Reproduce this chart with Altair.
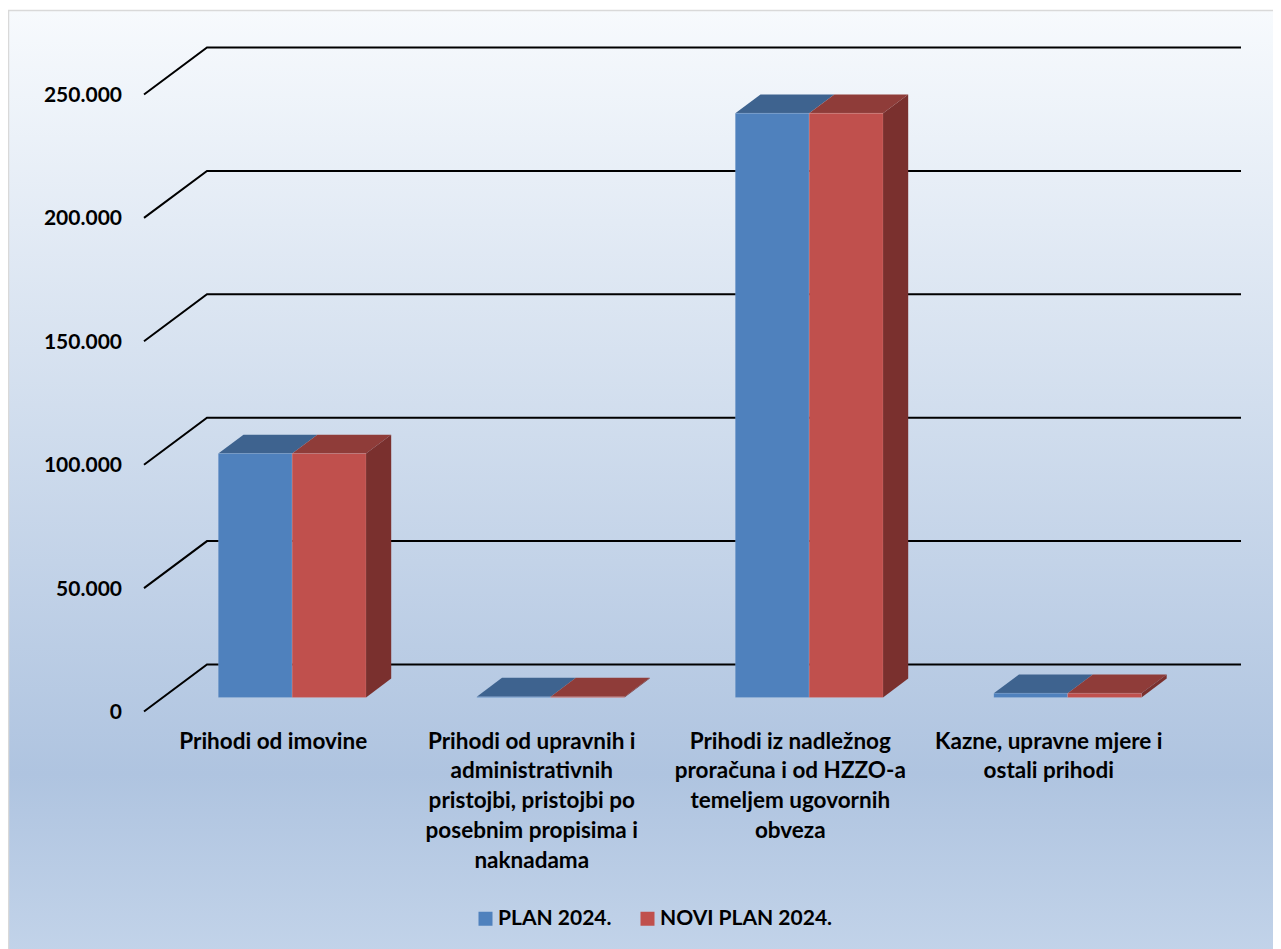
import altair as alt
import pandas as pd

categories = [
    "Prihodi od imovine",
    "Prihodi od upravnih i\nadministrativnih\npristojbi, pristojbi po\nposebnim propisima i\nnaknadama",
    "Prihodi iz nadležnog\nproračuna i od HZZO-a\ntemeljem ugovornih\nobveza",
    "Kazne, upravne mjere i\nostali prihodi",
]
series_names = ["PLAN 2024.", "NOVI PLAN 2024."]
plan_2024 = [98800, 300, 236700, 1700]
novi_plan_2024 = [98800, 300, 236700, 1700]
tick_values = [0, 50000, 100000, 150000, 200000, 250000]
tick_labels = ["0", "50.000", "100.000", "150.000", "200.000", "250.000"]

W, H = 1265, 941
PX_U = 258.5           # pixels per category
PX_V = 2.468 / 1000    # pixels per value unit
X0, Y0 = 144 - 8, 711.5 - 8   # where category 0 / value 0 meet, inside the plot
DEPTH_U = 63 / PX_U    # wall depth in category units
DEPTH_V = 47 / PX_V    # wall depth in value units
BAR_W = 2 / 7
MARGIN = 3 / 14
D_FRONT, D_BACK = 0.3, 0.7
FONT = "Lato"
FS = 21
FS_CAT = 22.5

x_scale = alt.Scale(domain=[-X0 / PX_U, (W - X0) / PX_U], range=[0, W], nice=False, zero=False)
y_scale = alt.Scale(domain=[(Y0 - H) / PX_V, Y0 / PX_V], range=[H, 0], nice=False, zero=False)
X = lambda f: alt.X(f, type="quantitative", scale=x_scale, axis=None, stack=None)
Y = lambda f: alt.Y(f, type="quantitative", scale=y_scale, axis=None, stack=None)

fronts, tops, sides = [], [], []
for s, (name, vals) in enumerate(zip(series_names, [plan_2024, novi_plan_2024])):
    for c, v in enumerate(vals):
        left = c + MARGIN + s * BAR_W + D_FRONT * DEPTH_U
        right = left + BAR_W
        base = D_FRONT * DEPTH_V
        fronts.append(dict(series=name, order=s, l=left, r=right, b=base, t=v + base))
        sid = f"{s}-{c}"
        for d in (0.0, D_BACK - D_FRONT):
            tops.append(dict(id=sid, s=s, y=v + base + d * DEPTH_V,
                             l=left + d * DEPTH_U, r=right + d * DEPTH_U))
            sides.append(dict(id=sid, s=s, x=right + d * DEPTH_U,
                              t=v + base + d * DEPTH_V, b=base + d * DEPTH_V))
fronts, tops, sides = pd.DataFrame(fronts), pd.DataFrame(tops), pd.DataFrame(sides)

grid = pd.DataFrame(
    [dict(tick=t, x=u, y=t + d * DEPTH_V)
     for t in tick_values
     for u, d in ((0, 0), (DEPTH_U, 1), (4 + DEPTH_U, 1))]
)

background = alt.Chart(pd.DataFrame({"a": [0]})).mark_rect(
    fill=alt.Gradient(
        gradient="linear", x1=0, x2=0, y1=0, y2=1,
        stops=[
            alt.GradientStop(color="#f7fafd", offset=0),
            alt.GradientStop(color="#afc4e0", offset=0.81),
            alt.GradientStop(color="#c2d3e9", offset=1),
        ],
    ),
    stroke="#d9d9d9", strokeWidth=1.5,
).encode(x=alt.value(0.5), x2=alt.value(W + 4), y=alt.value(2.5), y2=alt.value(H + 4))

grid_lines = alt.Chart(grid).mark_line(color="#000000", strokeWidth=2, strokeJoin="miter").encode(
    x=X("x"), y=Y("y"), detail="tick:N", order="x:Q"
)

def top_layer(s, color):
    return alt.Chart(tops[tops.s == s]).mark_area(orient="horizontal", color=color).encode(
        y=Y("y"), x=X("l"), x2="r", detail="id:N"
    )

side_layer = alt.Chart(sides[sides.s == 1]).mark_area(orient="vertical", color="#7a302e").encode(
    x=X("x"), y=Y("t"), y2="b", detail="id:N"
)

front_layer = alt.Chart(fronts).mark_rect(stroke="#ffffff", strokeOpacity=0.1, strokeWidth=1).encode(
    x=X("l"), x2="r", y=Y("t"), y2="b",
    color=alt.Color(
        "series:N",
        scale=alt.Scale(domain=series_names, range=["#4f81bd", "#c0504d"]),
        legend=alt.Legend(
            title=None, orient="none", legendX=467, legendY=900, direction="horizontal",
            symbolType="square", symbolSize=196, symbolStrokeWidth=0,
            labelFont=FONT, labelFontWeight="bold", labelFontSize=FS, labelColor="#000000",
            columnPadding=25, labelOffset=2, labelLimit=300,
        ),
    ),
)

y_labels = alt.Chart(pd.DataFrame({"v": tick_values, "t": tick_labels, "u": [-22 / PX_U] * 6})).mark_text(
    align="right", baseline="middle", dy=1.5, font=FONT, fontWeight="bold", fontSize=FS, color="#000000"
).encode(x=X("u"), y=Y("v"), text="t:N")

x_labels = alt.Chart(pd.DataFrame({
    "c": categories,
    "u": [i + 0.5 for i in range(len(categories))],
    "v": [-19 / PX_V] * len(categories),
})).mark_text(
    align="center", baseline="top", lineBreak="\n", lineHeight=29.8,
    font=FONT, fontWeight="bold", fontSize=FS_CAT, color="#000000",
).encode(x=X("u"), y=Y("v"), text="c:N")

chart = alt.layer(
    background, grid_lines, top_layer(0, "#3e638f"), top_layer(1, "#8f3c39"),
    side_layer, front_layer, y_labels, x_labels,
).properties(width=W, height=H, padding=0, autosize="none", background="#ffffff").configure_view(stroke=None)

chart.save("out.html", embed_options={"renderer": "svg", "actions": False})
